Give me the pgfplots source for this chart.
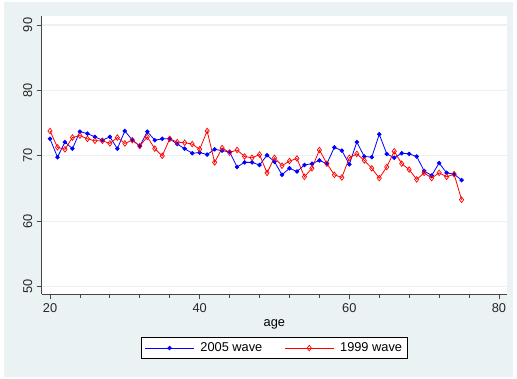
\documentclass[border=0pt]{standalone}
\usepackage{pgfplots}
\pgfplotsset{compat=1.18}
\usepackage{fontspec}
\setmainfont{Liberation Sans}
\definecolor{bgc}{RGB}{234,242,243}
\definecolor{axc}{RGB}{70,70,70}
\begin{document}
\fontsize{12.8bp}{15bp}\selectfont
\begin{tikzpicture}
\path[fill=white] (0bp,0bp) rectangle (517bp,379bp);
\path[fill=bgc] (4bp,2bp) rectangle (513bp,377bp);
\begin{axis}[
  at={(41.7bp,84.7bp)}, anchor=south west,
  scale only axis, width=465.3bp, height=278.6bp,
  xmin=18.89, xmax=81.07, ymin=48.84, ymax=91.42,
  axis x line=bottom, axis y line=left,
  axis line style={-, draw=axc, line width=0.9bp},
  axis background/.style={fill=white},
  xtick={20,40,60,80}, minor x tick num=4,
  ytick={50,60,70,80,90},
  tick align=outside,
  major tick length=5bp, minor tick length=3.5bp,
  every tick/.style={draw=axc, line width=0.8bp},
  ymajorgrids, major grid style={draw=bgc, line width=1.3bp},
  /pgf/number format/assume math mode=true,
  ticklabel style={text=black!85},
  yticklabel style={rotate=90, anchor=south},
  xlabel={age},
  x label style={at={(axis description cs:0.5,-0.1138)}, anchor=base},
  legend columns=2,
  legend style={at={(axis description cs:0.5,-0.1545)}, anchor=north,
    draw=black, fill=white, line width=0.6bp, inner ysep=3bp, inner xsep=3bp,
    /tikz/every odd column/.append style={column sep=4bp},
    /tikz/every even column/.append style={column sep=20bp},
    cells={anchor=west}},
  legend image code/.code={\draw[mark repeat=2,mark phase=2] plot coordinates {(0bp,0bp)(24.5bp,0bp)(49bp,0bp)};},
]
\addplot[blue, line width=0.8bp, mark=*, mark size=1.8bp, mark options={fill=blue}] coordinates {
(20,72.6)(21,69.8)(22,72.1)(23,71.1)(24,73.7)(25,73.4)(26,72.9)(27,72.4)(28,72.9)(29,71.1)
(30,73.8)(31,72.4)(32,71.5)(33,73.7)(34,72.4)(35,72.6)(36,72.6)(37,71.8)(38,71.1)(39,70.4)
(40,70.5)(41,70.2)(42,71.0)(43,70.8)(44,70.6)(45,68.3)(46,69.0)(47,69.0)(48,68.6)(49,70.1)
(50,69.1)(51,67.1)(52,68.1)(53,67.6)(54,68.6)(55,68.8)(56,69.3)(57,68.8)(58,71.3)(59,70.8)
(60,68.7)(61,72.1)(62,69.9)(63,69.8)(64,73.3)(65,70.3)(66,69.7)(67,70.4)(68,70.3)(69,69.9)
(70,67.7)(71,67.0)(72,68.9)(73,67.4)(74,67.2)(75,66.3)};
\addlegendentry{2005 wave}
\addplot[red, line width=0.8bp, mark=diamond, mark size=2.8bp, mark options={fill=none, line width=0.7bp}] coordinates {
(20,73.8)(21,71.3)(22,71.0)(23,72.8)(24,73.1)(25,72.6)(26,72.3)(27,72.3)(28,71.9)(29,72.8)
(30,71.9)(31,72.4)(32,71.5)(33,72.9)(34,71.1)(35,70.0)(36,72.6)(37,72.1)(38,72.0)(39,71.8)
(40,71.0)(41,73.8)(42,69.0)(43,71.2)(44,70.5)(45,70.9)(46,69.9)(47,69.7)(48,70.2)(49,67.4)
(50,69.7)(51,68.5)(52,69.2)(53,69.6)(54,66.8)(55,68.1)(56,70.9)(57,68.8)(58,67.1)(59,66.7)
(60,69.7)(61,70.3)(62,69.3)(63,68.1)(64,66.6)(65,68.3)(66,70.7)(67,68.8)(68,67.9)(69,66.4)
(70,67.4)(71,66.6)(72,67.4)(73,66.8)(74,67.2)(75,63.3)};
\addlegendentry{1999 wave}
\end{axis}
\end{tikzpicture}
\end{document}
